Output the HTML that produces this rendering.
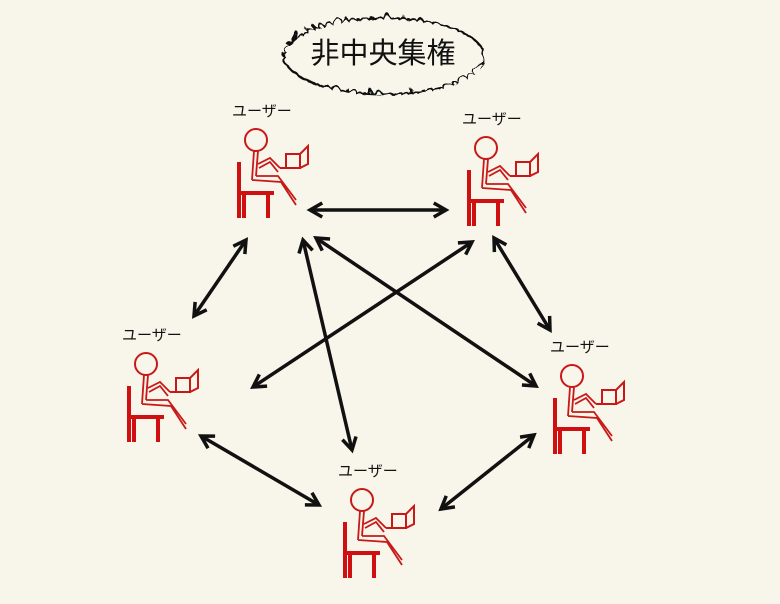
<!DOCTYPE html>
<html><head><meta charset="utf-8"><style>
html,body{margin:0;padding:0;background:#f8f5ea;}
svg{display:block}
</style></head><body>
<svg width="780" height="604" viewBox="0 0 780 604" xmlns="http://www.w3.org/2000/svg">
<defs>
<filter id="wob" filterUnits="userSpaceOnUse" x="250" y="0" width="260" height="110">
<feTurbulence type="turbulence" baseFrequency="0.12" numOctaves="1" seed="5" result="n"/>
<feDisplacementMap in="SourceGraphic" in2="n" scale="10"/>
</filter>
<marker id="ah" viewBox="0 0 10 10" refX="8" refY="5" markerWidth="5" markerHeight="5" orient="auto-start-reverse">
<path d="M1,1 L8,5 L1,9" fill="none" stroke="#111" stroke-width="2"/>
</marker>
<g id="fig">
<circle cx="0" cy="0" r="11" fill="none" stroke="#c81818" stroke-width="2"/>
<path d="M-2,11 L-4,40 M2,11 L0,36 M-4,40 L25,42 L40,65 M0,36 L22,36 L40,60 M2,24 L14,18 L24,28 M3,28 L14,22 L22,32" fill="none" stroke="#c81818" stroke-width="1.8"/>
<path d="M24,28 L44,28 L44,14 L52,6 L52,24 L44,28 M30,14 L44,14 L44,28 L30,28 Z" fill="none" stroke="#c81818" stroke-width="2"/>
<path d="M-17,22 L-17,78 M-17,53 L18,53 M-12,53 L-12,78 M12,53 L12,78" fill="none" stroke="#d01010" stroke-width="4"/>
</g>
</defs>
<ellipse cx="380" cy="52" rx="100" ry="38" fill="none" stroke="#111" stroke-width="2.2" filter="url(#wob)"/>
<text x="383" y="63" text-anchor="middle" font-family="'Liberation Sans','Noto Sans CJK JP',sans-serif" font-size="29" fill="#111">非中央集権</text>
<g font-family="'Liberation Sans','Noto Sans CJK JP',sans-serif" font-size="15" fill="#111">
<text x="232" y="116">ユーザー</text>
<text x="462" y="124">ユーザー</text>
<text x="122" y="340">ユーザー</text>
<text x="550" y="352">ユーザー</text>
<text x="338" y="476">ユーザー</text>
</g>
<use href="#fig" x="256" y="140"/>
<use href="#fig" x="486" y="148"/>
<use href="#fig" x="146" y="364"/>
<use href="#fig" x="572" y="376"/>
<use href="#fig" x="362" y="500"/>
<g stroke="#111" stroke-width="3.5" fill="none" marker-start="url(#ah)" marker-end="url(#ah)">
<line x1="310" y1="210" x2="446" y2="210"/>
<line x1="246" y1="240" x2="194" y2="316"/>
<line x1="472" y1="242" x2="253" y2="387"/>
<line x1="303" y1="240" x2="352" y2="450"/>
<line x1="316" y1="238" x2="536" y2="386"/>
<line x1="494" y1="238" x2="550" y2="330"/>
<line x1="201" y1="436" x2="319" y2="505"/>
<line x1="534" y1="435" x2="441" y2="509"/>
</g>
</svg>
</body></html>
